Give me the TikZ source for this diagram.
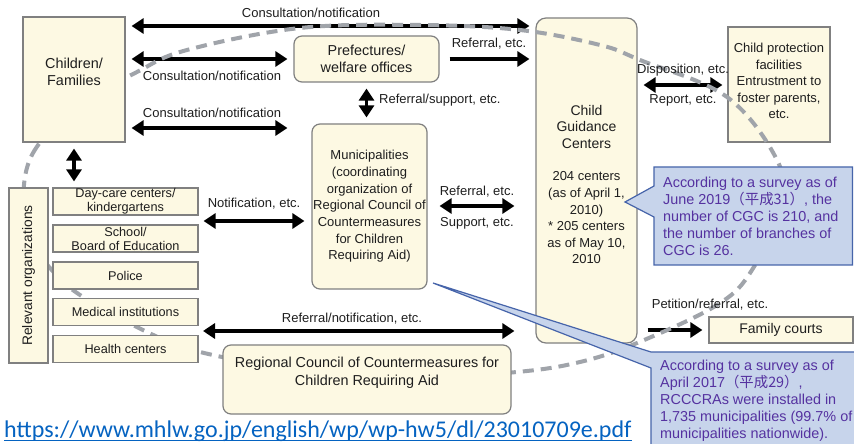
\documentclass[tikz,border=0pt]{standalone}
\usepackage{fontspec}
\setmainfont{Liberation Sans}
\newfontfamily\cjk{Noto Sans CJK JP}
\newfontfamily\urlfont{Carlito}
\usetikzlibrary{arrows.meta}

\definecolor{boxfill}{RGB}{253,249,227}
\definecolor{boxline}{RGB}{128,128,128}
\definecolor{txtc}{RGB}{30,30,30}
\definecolor{ringc}{RGB}{160,164,170}
\definecolor{calfill}{RGB}{199,212,235}
\definecolor{calline}{RGB}{70,100,170}
\definecolor{caltxt}{RGB}{85,50,160}
\definecolor{urlc}{RGB}{5,99,193}

\pgfdeclarelayer{paper}
\pgfdeclarelayer{under}
\pgfdeclarelayer{ringlayer}
\pgfsetlayers{paper,under,ringlayer,main}

\tikzset{
  box/.style={draw=boxline, fill=boxfill, line width=1.2bp, inner sep=0pt,
    text=txtc, align=center},
  rbox/.style={box, rounded corners=8bp},
  item/.style={box, minimum width=145bp, minimum height=27bp,
    font=\fontsize{12.7bp}{14bp}\selectfont},
  lbl/.style={inner sep=0pt, text=txtc, align=center,
    font=\fontsize{13bp}{15bp}\selectfont},
  big/.style={font=\fontsize{14.4bp}{16.5bp}\selectfont},
  oneway/.style={line width=3.6bp, ->},
  twoway/.style={line width=3.6bp, <->},
  ring/.style={draw=ringc, line width=4bp, dash pattern=on 11bp off 7bp},
  callout/.style={fill=calfill, draw=calline, line width=1.2bp},
  caltext/.style={inner sep=0pt, text=caltxt, align=left,
    font=\fontsize{14.4bp}{17bp}\selectfont}
}

\begin{document}
\begin{tikzpicture}[x=1bp, y=-1bp, >={Triangle[length=12bp,width=15bp]}]
\useasboundingbox (0,0) rectangle (854,444);
\begin{pgfonlayer}{paper}
\fill[white] (0,0) rectangle (854,444);
\end{pgfonlayer}

% ---- boxes that the dashed ring runs across
\begin{pgfonlayer}{under}
\node[rbox, rounded corners=10bp, minimum width=101bp, minimum height=325bp] (cgc) at (586.5,180.5) {};
\node[box, minimum width=102bp, minimum height=115bp] (cpf) at (779,84.5) {};
\end{pgfonlayer}

% ---- boxes drawn over the ring
\node[box, minimum width=102bp, minimum height=125bp] (children) at (74,79.5) {};
\node[rbox, big, minimum width=145bp, minimum height=46bp] (pref) at (366.5,59) {Prefectures/\\welfare offices};
\node[rbox, minimum width=115bp, minimum height=165bp, font=\fontsize{13bp}{16.7bp}\selectfont] (muni) at (369.5,206.5)
  {Municipalities\\(coordinating\\organization of\\Regional Council of\\Countermeasures\\for Children\\Requiring Aid)};
\node[box, minimum width=39bp, minimum height=175bp] (rel) at (28.5,275.5) {};
\node[item] (day) at (125.5,201.5) {Day-care centers/\\kindergartens};
\node[item] (school) at (125.5,238.5) {School/\\Board of Education};
\node[item] (police) at (125.5,275.5) {Police};
\node[item] (medical) at (125.5,312) {Medical institutions};
\node[item] (health) at (125.5,349) {Health centers};
\node[rbox, minimum width=288bp, minimum height=69bp] (rcca) at (367,379.5) {};
\node[box, minimum width=144bp, minimum height=26bp, font=\fontsize{14bp}{16bp}\selectfont] (fc) at (781,330) {Family courts};
\coordinate (orgs) at (198,331);

% ---- texts of the large boxes
\node[lbl, big] (childrenT) at (74,72) {Children/\\Families};
\node[lbl, font=\fontsize{14bp}{16.6bp}\selectfont] (cgcT) at (586.5,126.6) {Child\\Guidance\\Centers};
\node[lbl, font=\fontsize{13bp}{16.6bp}\selectfont] (cgcN) at (586.5,217.9)
  {204 centers\\(as of April 1,\\2010)\\* 205 centers\\as of May 10,\\2010};
\node[lbl, font=\fontsize{13bp}{16.5bp}\selectfont] (cpfT) at (779,81)
  {Child protection\\facilities\\Entrustment to\\foster parents,\\etc.};
\node[lbl, rotate=90, font=\fontsize{13.8bp}{16bp}\selectfont] (relT) at (28.5,275.5) {Relevant organizations};
\node[lbl, big, font=\fontsize{14.4bp}{18bp}\selectfont] (rccaT) at (367,373)
  {Regional Council of Countermeasures for\\Children Requiring Aid};

% ---- connectors
\begin{pgfonlayer}{under}
\draw[twoway, shorten <=6bp, shorten >=6bp] (children.east |- 0,26) -- (cgc.west |- 0,26);
\draw[twoway, shorten <=6bp, shorten >=6bp] (children.east |- pref.west) -- (pref.west);
\draw[twoway, shorten <=6bp, shorten >=24bp] (children.east |- 0,128) -- (muni.west |- 0,128);
\draw[oneway, shorten <=10bp, shorten >=6bp] (pref.east) -- (cgc.west |- pref.east);
\draw[twoway, shorten <=6bp, shorten >=6bp] (pref.south) -- (pref.south |- muni.north);
\draw[twoway, shorten <=6bp, shorten >=6bp] (children.south) -- (children.south |- day.north);
\draw[twoway, shorten <=5bp, shorten >=7bp] (day.east |- 0,221) -- (muni.west |- 0,221);
\draw[twoway, shorten <=12bp, shorten >=21bp] (muni.east |- 0,206) -- (cgc.west |- 0,206);
\draw[twoway, shorten <=5bp, shorten >=21bp] (orgs) -- (cgc.west |- orgs);
\draw[twoway, shorten <=6bp, shorten >=5bp] (cgc.east |- 0,85) -- (cpf.west |- 0,85);
\draw[oneway, shorten <=10bp, shorten >=6bp] (cgc.east |- fc.west) -- (fc.west);
\end{pgfonlayer}

% ---- connector labels
\node[lbl] (l1) at (311,13) {Consultation/notification};
\node[lbl] (l2) at (212,76) {Consultation/notification};
\node[lbl] (l3) at (212,113) {Consultation/notification};
\node[lbl] (l4) at (489,44) {Referral, etc.};
\node[lbl, anchor=west] (l5) at (379,100) {Referral/support, etc.};
\node[lbl] (l6) at (254,204) {Notification, etc.};
\node[lbl] (l7) at (477,192) {Referral, etc.};
\node[lbl] (l8) at (477,223) {Support, etc.};
\node[lbl] (l9) at (352,319) {Referral/notification, etc.};
\node[lbl] (l10) at (683,70) {Disposition, etc.};
\node[lbl] (l11) at (683,100) {Report, etc.};
\node[lbl] (l12) at (710,305) {Petition/referral, etc.};

% ---- dashed ring around the network
\begin{pgfonlayer}{ringlayer}
\draw[ring] plot[smooth cycle, tension=0.6] coordinates {
  (23,200) (33,153) (75,108) (137,72) (187,50) (300,28) (420,25) (520,30)
  (600,45) (640,60) (727,97) (777,160) (781,205) (752,270) (717,305)
  (637,343) (580,362) (517,372) (410,378) (300,370) (200,352) (147,332)
  (80,295) (50,268) (29,238)};
\end{pgfonlayer}

% ---- callouts
\draw[callout] (654,167) -- (852.5,167) -- (852.5,265) -- (654,265) -- (654,217)
  -- (625,202) -- (654,186) -- cycle;
\node[caltext, anchor=west] (cal1) at (663,216)
  {According to a survey as of\\June 2019{\cjk （平成31）}, the\\number of CGC is 210, and\\the number of branches of\\CGC is 26.};
\draw[callout] (651,352) -- (860,352) -- (860,452) -- (651,452) -- (651,368)
  -- (433,283) -- cycle;
\node[caltext, anchor=west] (cal2) at (660,401)
  {According to a survey as of\\April 2017{\cjk （平成29）},\\RCCCRAs were installed in\\1,735 municipalities (99.7\% of\\municipalities nationwide).};

% ---- source link
\node[anchor=base west, inner sep=0pt, text=urlc, font=\urlfont\fontsize{24bp}{26bp}\selectfont] (url) at (4,437.5)
  {https://www.mhlw.go.jp/english/wp/wp-hw5/dl/23010709e.pdf};
\draw[urlc, line width=1.2bp] ([yshift=-3bp]url.base west) -- ([yshift=-3bp]url.base east);
\end{tikzpicture}
\end{document}
